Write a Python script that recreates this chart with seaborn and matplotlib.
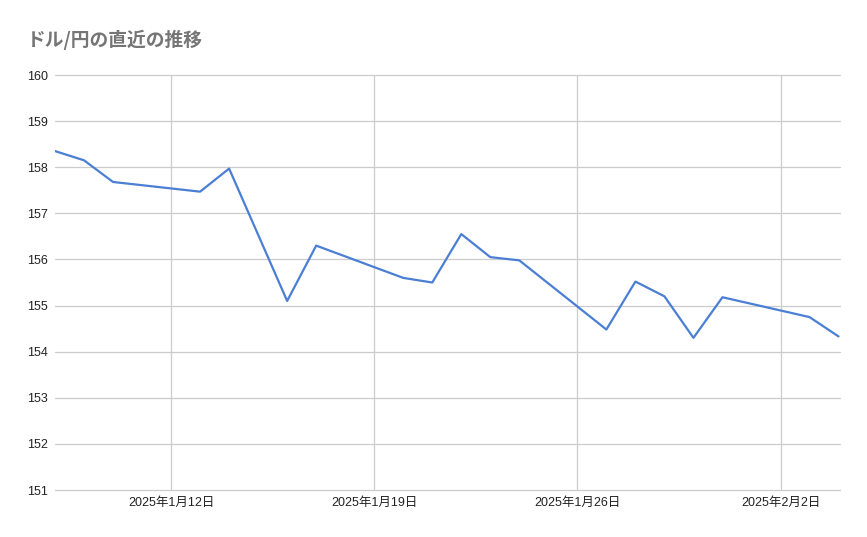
import matplotlib
matplotlib.use("Agg")
import matplotlib.pyplot as plt
import seaborn as sns
import pandas as pd

dates = ["2025-01-08", "2025-01-09", "2025-01-10", "2025-01-13", "2025-01-14",
         "2025-01-16", "2025-01-17", "2025-01-20", "2025-01-21", "2025-01-22",
         "2025-01-23", "2025-01-24", "2025-01-27", "2025-01-28", "2025-01-29",
         "2025-01-30", "2025-01-31", "2025-02-03", "2025-02-04"]
rates = [158.35, 158.15, 157.68, 157.47, 157.97,
         155.10, 156.30, 155.60, 155.50, 156.55,
         156.05, 155.98, 154.48, 155.52, 155.20,
         154.30, 155.18, 154.75, 154.33]
y_ticks = [151, 152, 153, 154, 155, 156, 157, 158, 159, 160]
x_ticks = ["2025-01-12", "2025-01-19", "2025-01-26", "2025-02-02"]
x_tick_labels = ["2025年1月12日", "2025年1月19日", "2025年1月26日", "2025年2月2日"]
title = "ドル/円の直近の推移"

df = pd.DataFrame({"date": pd.to_datetime(dates), "rate": rates})

sns.set_style("white")
plt.rcParams['font.family'] = ['Liberation Sans', 'Noto Sans CJK JP', 'DejaVu Sans']

fig = plt.figure(figsize=(8.67, 5.37), dpi=100)
ax = fig.add_axes([55/867, 47/537, 785/867, 415/537])

sns.lineplot(data=df, x="date", y="rate", ax=ax, color="#4a7fd4", linewidth=1.6)

ax.set_xlim(pd.Timestamp("2025-01-08"), pd.Timestamp("2025-01-08") + pd.Timedelta(days=27.05))
ax.set_ylim(151, 160)
ax.set_yticks(y_ticks)
ax.set_yticklabels([str(v) for v in y_ticks])
ax.set_xticks(pd.to_datetime(x_ticks))
ax.set_xticklabels(x_tick_labels)

ax.grid(True, color="#cccccc", linewidth=0.9)
ax.set_axisbelow(True)
for gl in ax.get_ygridlines():
    gl.set_clip_on(False)
for s in ax.spines.values():
    s.set_visible(False)
ax.tick_params(axis="both", length=0, labelsize=9, labelcolor="#222222")
ax.tick_params(axis="y", pad=20)
ax.tick_params(axis="x", pad=5)
for lbl in ax.get_yticklabels():
    lbl.set_horizontalalignment("left")
ax.set_xlabel("")
ax.set_ylabel("")

fig.text(27/867, 1 - 40/537, title, fontsize=13.5, color="#757575",
         fontweight="bold", va="center", ha="left",
         family=['Noto Sans CJK JP', 'DejaVu Sans'])

fig.savefig("out.png", dpi=100, facecolor="white")
